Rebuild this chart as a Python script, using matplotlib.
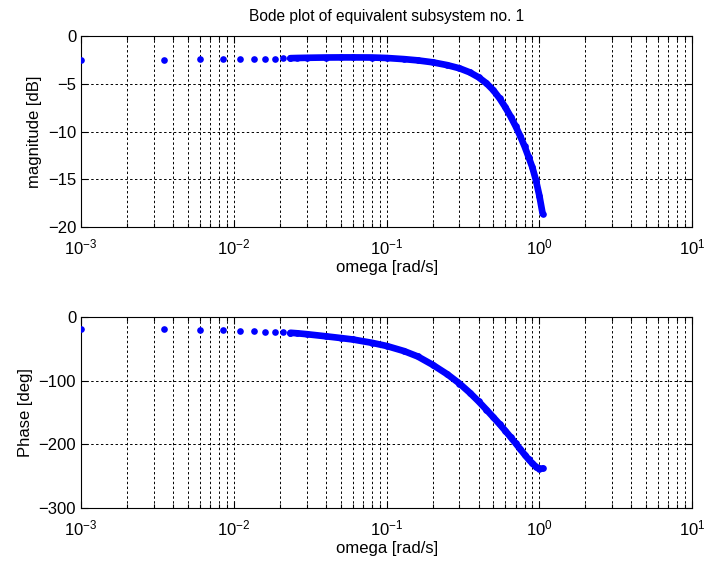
import numpy as np
import matplotlib.pyplot as plt
from matplotlib.ticker import LogLocator, NullFormatter, FixedLocator

plt.rcParams['font.family'] = ['Liberation Sans', 'DejaVu Sans']
plt.rcParams['mathtext.fontset'] = 'custom'
plt.rcParams['mathtext.rm'] = 'Liberation Sans'
plt.rcParams['mathtext.it'] = 'Liberation Sans'

## DATA #######################################################################

# separate dots at low frequency
omega_sparse = [0.001, 0.0035, 0.006, 0.0085, 0.011, 0.0135, 0.016, 0.0185, 0.021, 0.0235]
mag_sparse = [-2.48, -2.46, -2.45, -2.44, -2.42, -2.40, -2.38, -2.36, -2.34, -2.32]
phase_sparse = [-18.8, -19.5, -20.4, -21.0, -21.3, -22.5, -22.8, -23.2, -24.3, -24.8]

# dense part of the curve
omega_dense = [0.0235, 0.026, 0.03, 0.04, 0.05, 0.06, 0.08, 0.1, 0.13, 0.16, 0.2,
               0.25, 0.3, 0.35, 0.4, 0.45, 0.5, 0.55, 0.6, 0.65, 0.7, 0.75,
               0.8, 0.85, 0.9, 0.95, 1.0, 1.051]
mag_dense = [-2.32, -2.30, -2.28, -2.25, -2.24, -2.24, -2.25, -2.30, -2.42, -2.55, -2.75,
             -3.05, -3.38, -3.80, -4.32, -4.94, -5.68, -6.54, -7.48, -8.46, -9.46, -10.48,
             -11.54, -12.66, -13.75, -15.1, -16.7, -18.6]
phase_dense = [-24.8, -25.6, -27.0, -30.3, -33.0, -35.3, -40.5, -45.5, -53.5, -62.0, -75.0,
               -90.0, -104.5, -118.8, -132.5, -145.5, -157.5, -168.5, -179.0, -189.0, -198.5, -207.5,
               -216.0, -223.5, -230.0, -235.0, -238.7, -237.8]

xticks = [1e-3, 1e-2, 1e-1, 1e0, 1e1]
xticklabels = ['$10^{-3}$', '$10^{-2}$', '$10^{-1}$', '$10^{0}$', '$10^{1}$']

BLUE = (0, 0, 1)


def styleAxes(ax, yticks):
    ax.set_xscale('log')
    ax.set_xlim(1e-3, 1e1)
    ax.set_xticks(xticks)
    ax.set_xticklabels(xticklabels)
    ax.xaxis.set_minor_locator(LogLocator(base=10, subs=np.arange(2, 10)))
    ax.xaxis.set_minor_formatter(NullFormatter())
    ax.set_ylim(yticks[0], yticks[-1])
    ax.yaxis.set_major_locator(FixedLocator(yticks))
    ax.tick_params(which='both', direction='in', top=True, right=True,
                   labelsize=12, length=5, width=0.8)
    ax.tick_params(which='minor', length=3)
    ax.tick_params(axis='x', which='major', pad=7.5)
    ax.grid(True, which='major', color='black', linestyle=(0, (2.5, 2.5)), linewidth=0.7)
    ax.grid(True, which='minor', axis='x', color='black', linestyle=(0, (2.5, 2.5)), linewidth=0.7)
    ax.set_axisbelow(True)
    for s in ax.spines.values():
        s.set_linewidth(0.8)
    ax.set_xlabel('omega [rad/s]', fontsize=12, labelpad=2)


def drawCurve(ax, ws, ys, wd, yd):
    ax.plot(wd, yd, '-', color=BLUE, linewidth=4.8, solid_capstyle='round',
            solid_joinstyle='round', zorder=3)
    ax.plot(ws, ys, 'o', color=BLUE, markersize=4.8, markeredgewidth=0, zorder=3)
    ax.plot(wd, yd, 'o', color=BLUE, markersize=4.8, markeredgewidth=0, zorder=3)


## PLOT ########################################################################

fig = plt.figure(figsize=(7.04, 5.69), dpi=100)

ax1 = fig.add_axes([0.1151, 0.601, 0.868, 0.3357])
drawCurve(ax1, omega_sparse, mag_sparse, omega_dense, mag_dense)
styleAxes(ax1, [-20, -15, -10, -5, 0])
ax1.set_ylabel('magnitude [dB]', fontsize=12)
ax1.set_title('Bode plot of equivalent subsystem no. 1', fontsize=11.2, pad=11)

ax2 = fig.add_axes([0.1151, 0.1072, 0.868, 0.3357])
drawCurve(ax2, omega_sparse, phase_sparse, omega_dense, phase_dense)
styleAxes(ax2, [-300, -200, -100, 0])
ax2.set_ylabel('Phase [deg]', fontsize=12)

fig.savefig('out.png', dpi=100)
